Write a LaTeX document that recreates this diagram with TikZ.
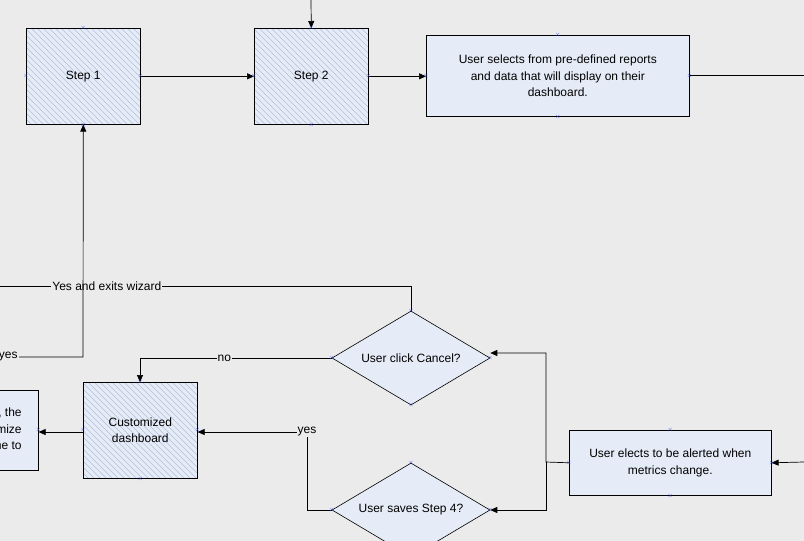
\documentclass[tikz,border=0pt]{standalone}
\usepackage{fontspec}
\setmainfont{Liberation Sans}
\usetikzlibrary{shapes.geometric,arrows.meta}
\definecolor{bg}{HTML}{EBEBEB}
\definecolor{boxfill}{HTML}{E6ECF7}
\definecolor{hatch}{HTML}{B4C0D8}
\definecolor{mk}{HTML}{3344DD}
\begin{document}
\begin{tikzpicture}[x=1pt,y=-1pt,font=\fontsize{12}{16.5}\selectfont,
  box/.style={draw=black,line width=0.6pt,fill=boxfill,align=center,inner sep=2pt,anchor=north west},
  hbox/.style={box,path picture={\foreach \i in {-130,-124,...,130}
      \draw[hatch,line width=0.5pt] ([xshift=\i pt]path picture bounding box.center) ++(-70pt,70pt) -- ++(140pt,-140pt);}},
  dia/.style={draw=black,line width=0.6pt,fill=boxfill,diamond,aspect=1.68,minimum width=158pt,minimum height=94pt,inner sep=0pt,align=center},
  arr/.style={-{Triangle[length=7pt,width=6pt]},draw=black,line width=0.7pt},
  ln/.style={draw=black,line width=0.7pt},
  lab/.style={fill=bg,inner sep=1pt}]
\useasboundingbox (0,0) rectangle (804,541);
\fill[bg] (0,0) rectangle (804,541);
\clip (0,0) rectangle (804,541);
\node[hbox,minimum width=114pt,minimum height=96pt] (s1) at (26,28) {Step 1};
\node[hbox,minimum width=114pt,minimum height=96pt] (s2) at (254,28) {Step 2};
\node[box,minimum width=263pt,minimum height=81pt] (rep) at (426,35) {User selects from pre-defined reports\\and data that will display on their\\dashboard.};
\node[hbox,minimum width=114pt,minimum height=96pt] (cd) at (83,382) {Customized\\dashboard};
\node[box,minimum width=202pt,minimum height=65pt] (ue) at (569,430) {User elects to be alerted when\\metrics change.};
\node[box,minimum width=140pt,minimum height=80pt,align=right,inner xsep=6pt] (lb) at (-102,390) {Step 4 saved to, the\\can customize\\at any time to};
\node[dia] (c1) at (411,358) {User click Cancel?};
\node[dia] (c2) at (411,510) {User saves Step 4?};
\coordinate (top) at (311,0);
\coordinate (rout) at (804,75);
\coordinate (rin) at (804,462);
\coordinate (lyes) at (0,357);
\coordinate (lex) at (0,286);
\draw[arr] (top) -- (s2.north);
\draw[arr] (s1.east) -- (s2.east -| s2.west);
\draw[arr] (s2.east) -- (rep.west |- s2.east);
\draw[ln] (rep.east |- rout) -- (rout);
\draw[arr] (rin) -- (ue.east);
\draw[arr] (ue.west) -- (546,462) -- (546,353) -- (c1.east |- 0,353);
\draw[arr] (546,462) -- (546,510) -- (c2.east);
\draw[ln] (c1.north) -- (411,286) -- node[lab,pos=0.74]{Yes and exits wizard} (lex);
\draw[arr] (lyes) -- node[lab,pos=0.1]{yes} (83,357) -- (s1.south);
\draw[arr] (c1.west) -- node[lab,pos=0.56]{no} (140,358) -- (140,382);
\draw[arr] (c2.west) -- (307,510) -- (307,432) -- node[lab,pos=0.0]{yes} (cd.east |- 0,432);
\draw[arr] (cd.west |- 0,432) -- (lb.east |- 0,432);
\foreach \p in {s1.north,s1.south,s1.east,s1.west,s2.north,s2.south,s2.east,s2.west,rep.north,rep.south,rep.east,rep.west,cd.north,cd.south,cd.east,cd.west,ue.north,ue.south,ue.east,ue.west,c1.north,c1.south,c1.east,c1.west,c2.north,c2.west,c2.east,lb.east}
  \node[mk,inner sep=0pt,font=\fontsize{6}{6}\selectfont] at (\p) {$\times$};
\end{tikzpicture}
\end{document}
